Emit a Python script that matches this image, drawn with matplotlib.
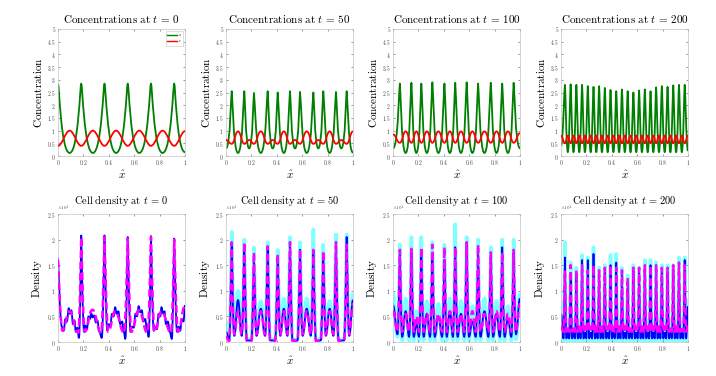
import matplotlib
matplotlib.use("Agg")
import numpy as np
import matplotlib.pyplot as plt
from matplotlib.path import Path
from matplotlib.patches import PathPatch
from matplotlib.lines import Line2D
from matplotlib.ticker import FuncFormatter, MultipleLocator

plt.rcParams["mathtext.fontset"] = "cm"
plt.rcParams["font.family"] = "serif"
plt.rcParams["font.serif"] = ["DejaVu Serif"]

# =========================
# DATA
# =========================
TIMES = ["0", "50", "100", "200"]

# ---- t = 0 ----
peak_x_0 = [0.0, 0.183, 0.366, 0.549, 0.732, 0.915]
trough_x_0 = [0.0915, 0.2745, 0.4575, 0.64, 0.8235, 1.0]
green_peak_0 = 2.85
green_trough_0 = [0.12, 0.12, 0.12, 0.12, 0.12, 0.15]
red_at_peak_0 = 0.4
red_at_trough_0 = [1.0, 1.0, 1.0, 1.0, 1.0, 0.98]
green_ends_0 = []
red_ends_0 = []

# ---- t = 50 ----
peak_x_50 = [0.045, 0.144, 0.22, 0.328, 0.407, 0.504, 0.583, 0.688, 0.766, 0.866, 0.95]
trough_x_50 = [0.0945, 0.182, 0.274, 0.3675, 0.4555, 0.5435, 0.6355, 0.727, 0.816, 0.908]
green_peak_50 = [2.55, 2.55, 2.48, 2.55, 2.5, 2.55, 2.52, 2.5, 2.55, 2.52, 2.55]
green_trough_50 = [0.12, 0.3, 0.12, 0.3, 0.12, 0.3, 0.12, 0.3, 0.12, 0.3]
red_at_peak_50 = 0.48
red_at_trough_50 = [0.97, 0.63, 0.97, 0.63, 0.97, 0.63, 0.97, 0.63, 0.97, 0.63]
green_ends_50 = [(0.0, 0.3), (1.0, 0.13)]
red_ends_50 = [(0.0, 0.63), (1.0, 0.97)]

# ---- t = 100 ----
peak_x_100 = [0.054, 0.145, 0.223, 0.31, 0.405, 0.49, 0.58, 0.67, 0.77, 0.86, 0.95]
trough_x_100 = [0.0995, 0.184, 0.2665, 0.3575, 0.4475, 0.535, 0.625, 0.72, 0.815, 0.905]
green_peak_100 = [2.85, 2.88, 2.85, 2.9, 2.85, 2.88, 2.9, 2.85, 2.88, 2.85, 2.88]
green_trough_100 = 0.12
red_at_peak_100 = 0.52
red_at_trough_100 = 0.97
green_ends_100 = [(0.0, 0.3), (1.0, 0.3)]
red_ends_100 = [(0.0, 0.85), (1.0, 0.9)]

# ---- t = 200 ----
peak_x_200 = [0.031, 0.076, 0.121, 0.166, 0.211, 0.256, 0.300, 0.345, 0.390, 0.435, 0.480,
              0.525, 0.570, 0.615, 0.660, 0.705, 0.749, 0.794, 0.839, 0.884, 0.929, 0.974]
trough_x_200 = [0.0535, 0.0985, 0.1435, 0.1885, 0.2335, 0.278, 0.3225, 0.3675, 0.4125, 0.4575,
                0.5025, 0.5475, 0.5925, 0.6375, 0.6825, 0.727, 0.7715, 0.8165, 0.8615, 0.9065, 0.9515]
green_peak_200 = [2.8, 2.82, 2.8, 2.8, 2.75, 2.72, 2.75, 2.68, 2.6, 2.55, 2.62,
                  2.55, 2.5, 2.58, 2.62, 2.55, 2.7, 2.75, 2.72, 2.78, 2.8, 2.8]
green_trough_200 = 0.15
red_at_peak_200 = 0.5
red_at_trough_200 = 0.8
green_ends_200 = [(0.0, 0.4), (1.0, 0.2)]
red_ends_200 = [(0.0, 0.8), (1.0, 0.8)]

# ---- cell density, t = 0 (x 10^4) ----
blue_x_0 = [0.0,
            0.03, 0.045, 0.058, 0.07, 0.085, 0.095, 0.105, 0.118, 0.13, 0.14, 0.152, 0.165, 0.183,
            0.205, 0.215, 0.228, 0.24, 0.252, 0.262, 0.272, 0.285, 0.298, 0.31, 0.325, 0.345, 0.366,
            0.388, 0.4, 0.412, 0.425, 0.438, 0.45, 0.462, 0.475, 0.49, 0.505, 0.518, 0.53, 0.549,
            0.571, 0.583, 0.596, 0.61, 0.622, 0.635, 0.648, 0.66, 0.672, 0.686, 0.7, 0.714, 0.732,
            0.754, 0.766, 0.779, 0.792, 0.805, 0.815, 0.826, 0.838, 0.85, 0.865, 0.88, 0.896, 0.915,
            0.937, 0.95, 0.962, 0.975, 0.988, 1.0]
blue_y_0 = [1.65,
            0.3, 0.22, 0.45, 0.4, 0.66, 0.55, 0.62, 0.35, 0.42, 0.2, 0.28, 0.08, 2.08,
            0.2, 0.32, 0.25, 0.5, 0.45, 0.56, 0.48, 0.52, 0.38, 0.42, 0.2, 0.08, 2.08,
            0.22, 0.35, 0.3, 0.55, 0.5, 0.68, 0.55, 0.6, 0.35, 0.4, 0.2, 0.06, 2.05,
            0.2, 0.3, 0.28, 0.55, 0.5, 0.7, 0.58, 0.62, 0.4, 0.45, 0.25, 0.1, 2.07,
            0.22, 0.3, 0.25, 0.55, 0.5, 0.68, 0.56, 0.6, 0.35, 0.4, 0.2, 0.06, 2.02,
            0.2, 0.3, 0.22, 0.45, 0.4, 0.72]
mag_x_0 = [0.0, 0.035, 0.09, 0.16, 0.183, 0.21, 0.27, 0.34, 0.366, 0.395, 0.45, 0.52, 0.549,
           0.578, 0.635, 0.705, 0.732, 0.76, 0.815, 0.89, 0.915, 0.945, 1.0]
mag_y_0 = [1.6, 0.22, 0.6, 0.18, 2.05, 0.2, 0.63, 0.18, 2.05, 0.2, 0.6, 0.18, 2.02,
           0.2, 0.62, 0.18, 2.05, 0.2, 0.6, 0.18, 2.0, 0.2, 0.7]

# ---- cell density, t = 50 ----
blue_peak_50 = [1.9, 1.9, 1.7, 1.85, 1.65, 1.9, 1.8, 1.75, 1.72, 1.9, 2.05]
mag_peak_50 = [1.95, 1.95, 1.75, 1.87, 1.72, 1.95, 1.82, 1.8, 1.78, 1.95, 1.9]
cyan_peak_50 = [2.15, 2.0, 1.85, 1.95, 1.8, 2.05, 1.95, 2.2, 1.9, 2.1, 2.1]
blue_bump_50 = [0.82, 0.03, 0.65, 0.03, 0.65, 0.03, 0.65, 0.03, 0.65, 0.03]
mag_bump_50 = [0.6, 0.02, 0.6, 0.02, 0.6, 0.02, 0.6, 0.02, 0.6, 0.02]
cyan_bump_50 = [1.0, 0.05, 0.8, 0.05, 0.85, 0.05, 0.85, 0.05, 0.8, 0.05]
blue_trough_50 = [0.12, 0.03, 0.12, 0.03, 0.12, 0.03, 0.12, 0.03, 0.12, 0.03]
mag_trough_50 = [0.15, 0.02, 0.15, 0.02, 0.15, 0.02, 0.15, 0.02, 0.15, 0.02]
cyan_trough_50 = [0.2, 0.05, 0.2, 0.05, 0.2, 0.05, 0.2, 0.05, 0.2, 0.05]
blue_ends_50 = [(0.2, 0.03), (0.12, 0.82)]
mag_ends_50 = [(0.1, 0.02), (0.15, 0.75)]
cyan_ends_50 = [(0.4, 0.05), (0.2, 0.95)]

# ---- cell density, t = 100 ----
blue_peak_100 = [1.8, 1.75, 1.8, 1.7, 1.6, 1.85, 1.9, 1.75, 1.7, 1.85, 1.75]
mag_peak_100 = [1.8, 1.82, 1.85, 1.9, 1.85, 1.85, 1.95, 1.9, 1.75, 1.75, 1.8]
cyan_peak_100 = [1.9, 2.05, 2.05, 1.95, 1.9, 2.3, 2.05, 2.0, 1.85, 2.0, 2.0]
blue_bump_100 = [0.6, 0.35, 0.55, 0.5, 0.6, 0.55, 0.4, 0.6, 0.55, 0.45]
mag_bump_100 = [0.55, 0.5, 0.55, 0.55, 0.6, 0.55, 0.6, 0.55, 0.6, 0.55]
cyan_bump_100 = [0.85, 0.6, 0.8, 0.75, 0.85, 0.8, 0.7, 0.85, 0.8, 0.7]
blue_trough_100 = 0.1
mag_trough_100 = 0.2
cyan_trough_100 = 0.03
blue_ends_100 = [(0.72, 0.15), (0.15, 0.85)]
mag_ends_100 = [(0.6, 0.2), (0.2, 0.75)]
cyan_ends_100 = [(0.95, 0.1), (0.05, 0.95)]

# ---- cell density, t = 200 ----
blue_peak_200 = [1.65, 1.35, 1.35, 1.6, 1.6, 1.72, 1.35, 1.4, 1.5, 1.55, 1.3,
                 1.05, 1.4, 1.35, 1.45, 1.5, 1.45, 1.4, 1.35, 1.4, 1.55, 1.6]
mag_peak_200 = [1.4, 1.5, 1.4, 1.5, 1.4, 1.5, 1.4, 1.45, 1.5, 1.45, 1.4,
                1.25, 1.45, 1.45, 1.5, 1.5, 1.5, 1.45, 1.45, 1.5, 1.55, 1.5]
cyan_peak_200 = [1.95, 1.55, 1.45, 1.7, 1.65, 1.85, 1.45, 1.5, 1.7, 1.72, 1.45,
                 1.3, 1.5, 1.45, 1.6, 1.6, 1.55, 1.5, 1.5, 1.5, 1.65, 1.65]
blue_bump_200 = 0.18
mag_bump_200 = 0.3
cyan_bump_200 = 0.42
blue_trough_200 = 0.07
mag_trough_200 = 0.2
cyan_trough_200 = 0.03
blue_ends_200 = [(0.55, 0.07), (0.07, 0.7)]
mag_ends_200 = [(0.3, 0.2), (0.2, 0.3)]
cyan_ends_200 = [(0.8, 0.03), (0.03, 0.85)]

TOP = [
    (peak_x_0, trough_x_0, green_peak_0, green_trough_0, red_at_peak_0, red_at_trough_0, green_ends_0, red_ends_0),
    (peak_x_50, trough_x_50, green_peak_50, green_trough_50, red_at_peak_50, red_at_trough_50, green_ends_50, red_ends_50),
    (peak_x_100, trough_x_100, green_peak_100, green_trough_100, red_at_peak_100, red_at_trough_100, green_ends_100, red_ends_100),
    (peak_x_200, trough_x_200, green_peak_200, green_trough_200, red_at_peak_200, red_at_trough_200, green_ends_200, red_ends_200),
]
BOTTOM = [
    None,
    (peak_x_50, trough_x_50,
     (blue_peak_50, blue_bump_50, blue_trough_50, blue_ends_50),
     (mag_peak_50, mag_bump_50, mag_trough_50, mag_ends_50),
     (cyan_peak_50, cyan_bump_50, cyan_trough_50, cyan_ends_50)),
    (peak_x_100, trough_x_100,
     (blue_peak_100, blue_bump_100, blue_trough_100, blue_ends_100),
     (mag_peak_100, mag_bump_100, mag_trough_100, mag_ends_100),
     (cyan_peak_100, cyan_bump_100, cyan_trough_100, cyan_ends_100)),
    (peak_x_200, trough_x_200,
     (blue_peak_200, blue_bump_200, blue_trough_200, blue_ends_200),
     (mag_peak_200, mag_bump_200, mag_trough_200, mag_ends_200),
     (cyan_peak_200, cyan_bump_200, cyan_trough_200, cyan_ends_200)),
]
SPIKE_HALF = [None, 0.02, 0.018, 0.011]   # half width of a density spike (style)

# =========================
# HELPERS
# =========================
def full(v, n):
    return list(np.broadcast_to(np.asarray(v, dtype=float), (n,)))


def top_points(px, tx, py, ty, ends):
    pts = list(zip(px, full(py, len(px)))) + list(zip(tx, full(ty, len(tx)))) + list(ends)
    pts.sort()
    return [p[0] for p in pts], [p[1] for p in pts]


def cell_points(px, bx, peak, bump, trough, ends, d):
    n = len(px)
    pk, bp, tr = full(peak, n), full(bump, n - 1), full(trough, n - 1)
    xs, ys = [0.0, px[0] - d], [ends[0][0], ends[0][1]]
    for i in range(n):
        xs.append(px[i]); ys.append(pk[i])
        if i < n - 1:
            xs += [px[i] + d, bx[i], px[i + 1] - d]
            ys += [tr[i], bp[i], tr[i]]
    xs += [px[-1] + d, 1.0]
    ys += [ends[1][0], ends[1][1]]
    return xs, ys


def smooth(ax, xs, ys, color, lw, k_sharp, k_round, thresh, ls="-", z=2):
    # cubic segments with flat tangents at every read point
    ks = [k_sharp if y > thresh else k_round for y in ys]
    verts = [(xs[0], ys[0])]
    codes = [Path.MOVETO]
    for i in range(len(xs) - 1):
        dx = xs[i + 1] - xs[i]
        verts += [(xs[i] + ks[i] * dx, ys[i]), (xs[i + 1] - ks[i + 1] * dx, ys[i + 1]), (xs[i + 1], ys[i + 1])]
        codes += [Path.CURVE4] * 3
    ax.add_patch(PathPatch(Path(verts, codes), facecolor="none", edgecolor=color, lw=lw,
                           linestyle=ls, zorder=z, capstyle="butt", joinstyle="round"))


def style_axes(ax, ymax):
    ax.set_xlim(0, 1)
    ax.set_ylim(0, ymax)
    ax.xaxis.set_major_locator(MultipleLocator(0.2))
    ax.yaxis.set_major_locator(MultipleLocator(0.5))
    fmt = FuncFormatter(lambda v, p: "$%g$" % round(v, 2))
    ax.xaxis.set_major_formatter(fmt)
    ax.yaxis.set_major_formatter(fmt)
    ax.tick_params(direction="in", length=1.5, width=0.4, labelsize=4, pad=1.5,
                   colors="#444444", top=True, right=True)
    for s in ax.spines.values():
        s.set_color("#c4c4c4")
        s.set_linewidth(0.5)
    ax.set_xlabel(r"$\hat{x}$", fontsize=8, labelpad=1)


# =========================
# FIGURE
# =========================
fig = plt.figure(figsize=(7.16, 3.76), dpi=100)
lefts = [58, 226, 393, 561]
W = 127 / 716

for j in range(4):
    # ---- concentrations ----
    ax = fig.add_axes([lefts[j] / 716, 1 - 156 / 376, W, 127 / 376])
    px, tx, gp, gt, rp, rt, gends, rends = TOP[j]
    gx, gy = top_points(px, tx, gp, gt, gends)
    rx, ry = top_points(px, tx, rp, rt, rends)
    k_r = 0.36 if j == 0 else 0.45
    if j < 3:
        smooth(ax, gx, gy, "#008000", 1.3, 0.1, 0.75, 1.2)
    else:
        smooth(ax, gx, gy, "#008000", 1.3, 0.15, 0.5, 1.2)
    smooth(ax, rx, ry, "#ff0000", 1.3, k_r, k_r, 9.0, z=3)
    style_axes(ax, 5)
    ax.set_title(r"$\mathrm{Concentrations\ at\ }t\,=\,%s$" % TIMES[j], fontsize=8, pad=4.5)
    ax.set_ylabel(r"$\mathrm{Concentration}$", fontsize=8, labelpad=2)
    if j == 0:
        handles = [Line2D([], [], color="#008000", lw=1.0), Line2D([], [], color="#ff0000", lw=1.0)]
        ax.legend(handles, ["$u$", "$v$"], loc="upper right", fontsize=2.5, handlelength=3,
                  borderpad=0.3, labelspacing=0.2, handletextpad=0.3, frameon=True,
                  fancybox=False, edgecolor="#c4c4c4", framealpha=1).get_frame().set_linewidth(0.4)

    # ---- cell density ----
    ax = fig.add_axes([lefts[j] / 716, 1 - 342 / 376, W, 128 / 376])
    if j == 0:
        smooth(ax, blue_x_0, blue_y_0, "#0000ff", 1.3, 0.05, 0.45, 1.0, z=2)
        smooth(ax, mag_x_0, mag_y_0, "#ff00ff", 1.8, 0.05, 0.45, 1.0, ls=(0, (3, 1.5)), z=3)
    else:
        px, bx, blue, mag, cyan = BOTTOM[j]
        d = SPIKE_HALF[j]
        for (pk, bp, tr, ends), col, lw, ls, z in [
                (cyan, "#80ffff", 2.6, "-", 1),
                (blue, "#0000ff", 1.3, "-", 2),
                (mag, "#ff00ff", 1.8, (0, (3, 1.5)), 3)]:
            xs, ys = cell_points(px, bx, pk, bp, tr, ends, d)
            smooth(ax, xs, ys, col, lw, 0.05, 0.45, 1.0, ls=ls, z=z)
    style_axes(ax, 2.5)
    ax.text(-0.01, 1.004, r"$\times10^{4}$", transform=ax.transAxes, fontsize=3.5,
            color="#444444", ha="left", va="bottom")
    ax.set_title(r"$\mathrm{Cell\ density\ at\ }t\,=\,%s$" % TIMES[j], fontsize=7.5, pad=7.5)
    ax.set_ylabel(r"$\mathrm{Density}$", fontsize=8, labelpad=2)

fig.savefig("out.png", dpi=100)
